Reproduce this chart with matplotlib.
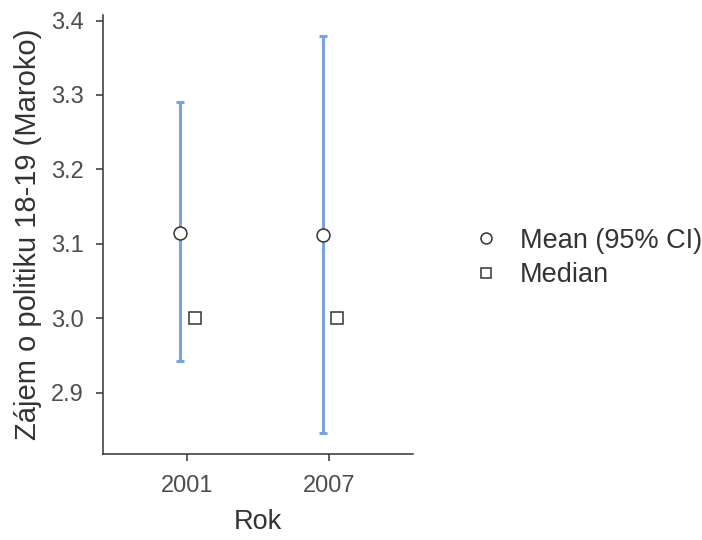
import numpy as np
from matplotlib import pyplot as plt

plt.rcParams['font.family'] = ['Liberation Sans', 'DejaVu Sans']

years = ['2001', '2007']
means = [3.115, 3.112]
ci_low = [2.943, 2.846]
ci_high = [3.290, 3.379]
medians = [3.0, 3.0]

fig = plt.figure(figsize=(7.02, 5.4), dpi=100)
# axes box in pixels: left 103, right 413, top 15, bottom 454
ax = fig.add_axes([103 / 702, 1 - 454 / 540, 310 / 702, 439 / 540])

x = np.arange(len(years))
m = np.array(means)
err = [m - np.array(ci_low), np.array(ci_high) - m]
ax.errorbar(x - 0.045, m, yerr=err, fmt='none', ecolor='#7ba3df',
            elinewidth=2.2, capsize=3, capthick=2.2, zorder=2)
ax.plot(x - 0.045, m, 'o', ms=9.3, mfc='white', mec='#333333', mew=1.1,
        ls='none', label='Mean (95% CI)', zorder=3)
ax.plot(x + 0.055, medians, 's', ms=9.0, mfc='white', mec='#333333', mew=1.1,
        ls='none', label='Median', zorder=3)

ax.set_xlim(-0.587, 1.587)
ax.set_ylim(2.818, 3.4074)
ax.set_xticks(x)
ax.set_xticklabels(years)
ax.set_yticks([2.9, 3.0, 3.1, 3.2, 3.3, 3.4])
ax.set_yticklabels(['2.9', '3.0', '3.1', '3.2', '3.3', '3.4'])

for s in ['top', 'right']:
    ax.spines[s].set_visible(False)
for s in ['left', 'bottom']:
    ax.spines[s].set_color('#333333')
    ax.spines[s].set_linewidth(1.1)
ax.tick_params(colors='#333333', labelcolor='#4d4d4d', labelsize=17,
               length=5, width=1.1)
ax.tick_params(axis='x', pad=10)
ax.tick_params(axis='y', pad=9)

ax.set_xlabel('Rok', fontsize=19.5, color='#333333')
ax.xaxis.set_label_coords(0.5, -0.125)
ax.set_ylabel('Zájem o politiku 18-19 (Maroko)', fontsize=21, color='#333333')
ax.yaxis.set_label_coords(-0.197, 0.5)

fig.legend(loc='center left', bbox_to_anchor=(459 / 702, 1 - 258 / 540),
           frameon=False, fontsize=19.5, borderpad=0, handlelength=1.0,
           handletextpad=0.76, labelspacing=0.3, markerscale=0.85,
           labelcolor='#333333')

fig.savefig('out.png', dpi=100)
